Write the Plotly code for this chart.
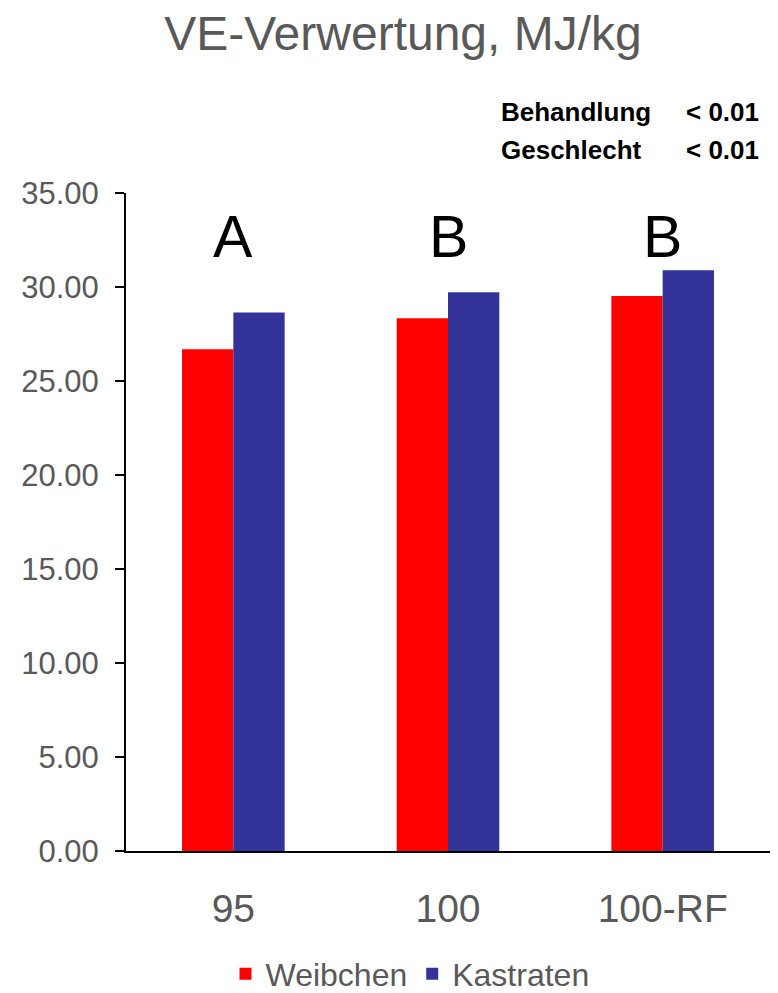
import plotly.graph_objects as go

categories = ["95", "100", "100-RF"]
weibchen = [26.69, 28.34, 29.52]
kastraten = [28.65, 29.72, 30.89]
letters = ["A", "B", "B"]
stats_labels = ["Behandlung", "Geschlecht"]
stats_values = ["< 0.01", "< 0.01"]
y_ticks = [0, 5, 10, 15, 20, 25, 30, 35]

# page has an 8px body margin; figure coordinates = page coordinates - 8
OFF = 8
W, H = 778 - OFF, 993 - OFF
L, R, T = 126 - OFF, 8, 193 - OFF
B = H - (851 - OFF)
pw, ph = W - L - R, H - T - B

def px_x(page_x):
    return (page_x - OFF - L) / pw

def px_y(page_y):
    return (H - B - (page_y - OFF)) / ph

REG = "Liberation Sans, Arial"
GREY = "#595959"

fig = go.Figure()
fig.add_trace(go.Bar(name="Weibchen", x=categories, y=weibchen,
                     marker=dict(color="#FF0000", line=dict(width=0))))
fig.add_trace(go.Bar(name="Kastraten", x=categories, y=kastraten,
                     marker=dict(color="#333399", line=dict(width=0))))

annotations = []
for i, t in enumerate(letters):
    annotations.append(dict(x=i, y=32.65, xref="x", yref="y", text=t, showarrow=False,
                            font=dict(family=REG, size=59, color="black"),
                            xanchor="center", yanchor="middle"))
for i, (lab, val) in enumerate(zip(stats_labels, stats_values)):
    yc = 112 + 38 * i
    annotations.append(dict(x=px_x(499), y=px_y(yc), xref="paper", yref="paper",
                            text="<b>%s</b>" % lab, showarrow=False, xanchor="left", yanchor="middle",
                            font=dict(family=REG, size=26, color="black")))
    annotations.append(dict(x=px_x(761), y=px_y(yc), xref="paper", yref="paper",
                            text="<b>%s</b>" % val, showarrow=False, xanchor="right", yanchor="middle",
                            font=dict(family=REG, size=26, color="black")))

fig.update_layout(
    width=W, height=H,
    margin=dict(l=L, r=R, t=T, b=B, autoexpand=False),
    paper_bgcolor="white", plot_bgcolor="white",
    barmode="group", bargap=0.522, bargroupgap=0,
    title=dict(text="VE-Verwertung, MJ/kg", x=(403 - OFF) / W, xanchor="center",
               y=1 - (33 - OFF) / H, yanchor="middle", yref="container",
               font=dict(family=REG, size=48, color=GREY)),
    showlegend=True,
    legend=dict(orientation="h", x=px_x(410), xanchor="center",
                y=px_y(974), yanchor="middle",
                font=dict(family=REG, size=32, color=GREY),
                itemsizing="constant"),
    annotations=annotations,
    xaxis=dict(type="category", range=[-0.5, 2.5], automargin=False,
               showline=True, linecolor="black", linewidth=2, ticks="",
               tickfont=dict(family=REG, size=39, color=GREY),
               ticklabelstandoff=22, showgrid=False, zeroline=False),
    yaxis=dict(range=[0, 35], tickvals=y_ticks, tickformat=".2f", automargin=False,
               showline=True, linecolor="black", linewidth=2,
               ticks="outside", ticklen=9, tickwidth=2, tickcolor="black",
               tickfont=dict(family=REG, size=31, color=GREY),
               ticklabelstandoff=10, showgrid=False, zeroline=False),
)

fig.write_html("out.html")
